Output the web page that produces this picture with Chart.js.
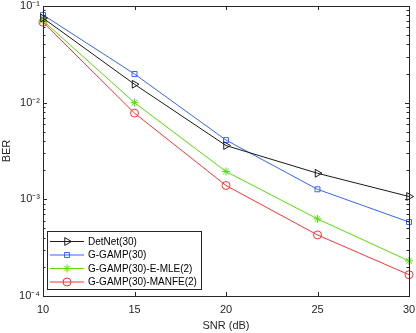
<!DOCTYPE html>
<html><head><meta charset="utf-8">
<script src="https://cdn.jsdelivr.net/npm/chart.js@4.4.1/dist/chart.umd.min.js"></script>
<style>html,body{margin:0;padding:0;background:#fff}#wrap{width:416px;height:333px}</style>
</head><body><div id="wrap"><canvas id="c" width="416" height="333"></canvas></div>
<script>
const snr = [10, 15, 20, 25, 30];
const detnet = [0.075, 0.0155, 0.0036, 0.00186, 0.00107];
const ggamp = [0.081, 0.0198, 0.0041, 0.00127, 0.000583];
const ggampEmle = [0.0705, 0.0100, 0.00194, 0.000627, 0.000231];
const ggampManfe = [0.068, 0.0078, 0.00139, 0.000428, 0.000166];
const xTicks = [10, 15, 20, 25, 30];
const yTicks = [1e-4, 1e-3, 1e-2, 1e-1];
const yTickLabels = ['10⁻⁴', '10⁻³', '10⁻²', '10⁻¹'];
const seriesLabels = ['DetNet(30)', 'G-GAMP(30)', 'G-GAMP(30)-E-MLE(2)', 'G-GAMP(30)-MANFE(2)'];

const AX = '#262626';
const FONT = 'Liberation Sans, Arial, Helvetica, sans-serif';

function ds(label, data, color, style, radius, rotation) {
  return {
    label, data: data.map((v, i) => ({x: snr[i], y: v})),
    borderColor: color, backgroundColor: 'rgba(0,0,0,0)',
    borderWidth: 1, pointStyle: style, pointRadius: radius, pointHoverRadius: radius,
    pointBorderColor: color, pointBackgroundColor: 'rgba(0,0,0,0)', pointBorderWidth: 1,
    pointRotation: rotation || 0, tension: 0, fill: false, clip: false
  };
}

const decor = {
  id: 'decor',
  afterDraw(chart) {
    const ctx = chart.ctx, a = chart.chartArea, xs = chart.scales.x, ys = chart.scales.y;
    ctx.save();
    ctx.strokeStyle = AX; ctx.lineWidth = 1;
    ctx.strokeRect(Math.round(a.left) + 0.5, Math.round(a.top) + 0.5, Math.round(a.right - a.left), Math.round(a.bottom - a.top));
    ctx.beginPath();
    xTicks.forEach(v => {
      const px = Math.round(xs.getPixelForValue(v)) + 0.5;
      ctx.moveTo(px, a.bottom); ctx.lineTo(px, a.bottom - 4);
      ctx.moveTo(px, a.top); ctx.lineTo(px, a.top + 4);
    });
    for (let d = -4; d <= -1; d++) {
      for (let m = 1; m <= 9; m++) {
        const v = m * Math.pow(10, d);
        if (v > 0.1 + 1e-12) continue;
        const py = Math.round(ys.getPixelForValue(v)) + 0.5;
        const len = m === 1 ? 4 : 2.5;
        ctx.moveTo(a.left, py); ctx.lineTo(a.left + len, py);
        ctx.moveTo(a.right, py); ctx.lineTo(a.right - len, py);
      }
    }
    ctx.stroke();
    // legend
    const lx = 47.5, ly = 231.5, lw = 154, lh = 58;
    ctx.fillStyle = '#fff';
    ctx.fillRect(lx, ly, lw, lh);
    ctx.strokeStyle = AX;
    ctx.strokeRect(lx, ly, lw, lh);
    ctx.font = '10px ' + FONT;
    ctx.textBaseline = 'middle';
    chart.data.datasets.forEach((d, i) => {
      const y = 241.5 + i * 13.5;
      ctx.strokeStyle = d.borderColor; ctx.lineWidth = 1;
      ctx.beginPath(); ctx.moveTo(50, y); ctx.lineTo(84, y); ctx.stroke();
      ctx.fillStyle = 'rgba(0,0,0,0)';
      Chart.helpers.drawPoint(ctx, {pointStyle: d.pointStyle, radius: d.pointRadius, rotation: d.pointRotation, borderWidth: 1}, 67, y);
      ctx.fillStyle = '#000';
      ctx.fillText(seriesLabels[i], 88, y + 0.5);
    });
    ctx.restore();
  }
};

new Chart(document.getElementById('c'), {
  type: 'line',
  data: {
    datasets: [
      ds(seriesLabels[0], detnet, '#1a1a1a', 'triangle', 4.5, 90),
      ds(seriesLabels[1], ggamp, '#3366ff', 'rect', 3.5),
      ds(seriesLabels[2], ggampEmle, '#55e000', 'star', 4),
      ds(seriesLabels[3], ggampManfe, '#ff3333', 'circle', 4)
    ]
  },
  options: {
    responsive: false, animation: false, devicePixelRatio: 1,
    layout: {autoPadding: false, padding: {top: 6, right: 0, left: 0, bottom: 0}},
    plugins: {legend: {display: false}, tooltip: {enabled: false}},
    scales: {
      x: {
        type: 'linear', min: 10, max: 30,
        afterBuildTicks(s) { s.ticks = xTicks.map(v => ({value: v})); },
        afterFit(s) { s.height = 37; s.paddingRight = 7; s.paddingLeft = 0; },
        grid: {display: false, drawTicks: false},
        border: {display: false},
        ticks: {color: AX, font: {family: FONT, size: 11}, padding: 7, maxRotation: 0},
        title: {display: true, text: 'SNR (dB)', color: AX, font: {family: FONT, size: 11}, padding: {top: 1, bottom: 0}}
      },
      y: {
        type: 'logarithmic', min: 1e-4, max: 1e-1,
        afterBuildTicks(s) { s.ticks = yTicks.map(v => ({value: v})); },
        afterFit(s) { s.width = 43; s.paddingTop = 0; s.paddingBottom = 0; },
        grid: {display: false, drawTicks: false},
        border: {display: false},
        ticks: {color: AX, font: {family: FONT, size: 11}, padding: 3,
          callback(v) { const i = yTicks.findIndex(t => Math.abs(t - v) / t < 1e-6); return i >= 0 ? yTickLabels[i] : ''; }},
        title: {display: true, text: 'BER', color: AX, font: {family: FONT, size: 11}, padding: {top: 0, bottom: 2}}
      }
    }
  },
  plugins: [decor]
});
</script></body></html>
